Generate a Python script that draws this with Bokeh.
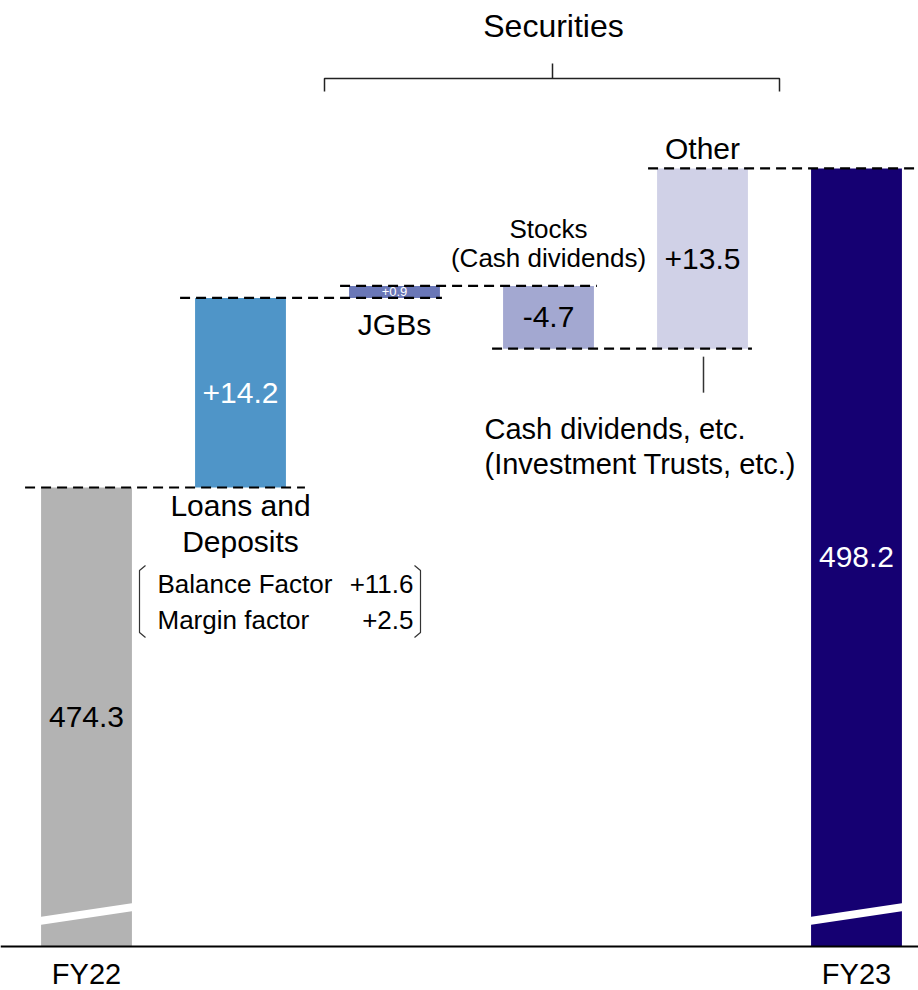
from bokeh.plotting import figure
from bokeh.models import Range1d, ColumnDataSource
from bokeh.embed import file_html
from bokeh.resources import INLINE
from bokeh.core.properties import value

# ---------------- data ----------------
categories = ["FY22", "Loans and Deposits", "JGBs", "Stocks", "Other", "FY23"]
start_value = 474.3
changes = [14.2, 0.9, -4.7, 13.5]
end_value = 498.2
bar_labels = ["474.3", "+14.2", "+0.9", "-4.7", "+13.5", "498.2"]
factor_names = ["Balance Factor", "Margin factor"]
factor_values = ["+11.6", "+2.5"]
bar_colors = ["#b3b3b3", "#4f95c8", "#6a77b7", "#a3a8d1", "#d0d1e7", "#150072"]
label_colors = ["#000000", "#ffffff", "#ffffff", "#000000", "#000000", "#ffffff"]

# ---------------- layout ----------------
W, H = 918, 990
PX = 13.35          # pixels per unit
STEP = 154.0        # pixels between bar centres
FIRST_X = 86.0      # px of first bar centre
START_Y = 487.0     # px of start value
BAR_W = 0.59
FONT = value("Liberation Sans")
BIG = "30px"
MID = "29px"
SMALL = "26px"


def RX(x):
    return (x - FIRST_X) / STEP


def RY(y):
    return start_value + (START_Y - y) / PX


def OFF(v, px):
    # shift a data value by px pixels downward
    return v - px / PX


p = figure(width=W, height=H, output_backend="svg", toolbar_location=None,
           x_range=Range1d(RX(0), RX(W)), y_range=Range1d(RY(H), RY(0)),
           x_axis_type=None, y_axis_type=None, min_border=0)
p.outline_line_color = None
p.grid.visible = False
p.background_fill_color = "white"

base = RY(946)

# waterfall geometry
levels = [start_value]
for c in changes:
    levels.append(levels[-1] + c)
bottoms = [base]
tops = [start_value]
for i, c in enumerate(changes):
    bottoms.append(min(levels[i], levels[i + 1]))
    tops.append(max(levels[i], levels[i + 1]))
bottoms.append(base)
tops.append(end_value)

xs = list(range(len(categories)))
mids = [(b + t) / 2 for b, t in zip(bottoms, tops)]
heights_px = [(t - b) * PX for b, t in zip(bottoms, tops)]
sizes = [BIG if h > 30 else "13px" for h in heights_px]
src = ColumnDataSource(dict(
    left=[x - BAR_W / 2 for x in xs], right=[x + BAR_W / 2 for x in xs],
    bottom=bottoms, top=tops, color=bar_colors,
    lx=xs, ly=mids, label=bar_labels, lcolor=label_colors, size=sizes))
p.quad(left="left", right="right", bottom="bottom", top="top",
       fill_color="color", line_color=None, source=src)

# axis break marks on the two totals
for i in (0, 5):
    l, r = i - BAR_W / 2 - 0.01, i + BAR_W / 2 + 0.01
    p.patch([l, r, r, l], [RY(916.5), RY(902.5), RY(910.5), RY(924.5)],
            fill_color="white", line_color=None)

# connectors
left_over = [16, 15, 9, 11, 9]
right_over = [19, 2, 3, 4, 20]
conn_levels = [levels[0], levels[1], levels[2], levels[3], end_value]
for k in range(5):
    x0 = k - BAR_W / 2 - left_over[k] / STEP
    x1 = k + 1 + BAR_W / 2 + right_over[k] / STEP
    p.line([x0, x1], [conn_levels[k]] * 2, line_color="black",
           line_width=2.2, line_dash="10 6")

# baseline
p.line([RX(0), RX(W)], [base, base], line_color="black", line_width=2)

# bar value labels
p.text(x="lx", y="ly", text="label", text_color="lcolor", source=src,
       text_font=FONT, text_font_size="size", text_align="center",
       text_baseline="middle")


def txt(x, y, s, size=BIG, align="center", color="black"):
    p.text(x=[x], y=[y], text=[s], text_font=FONT, text_font_size=size,
           text_align=align, text_baseline="middle", text_color=color)


# category labels
txt(0, RY(973), categories[0], size=MID)
txt(5, RY(973), categories[5], size=MID)
txt(1, OFF(levels[0], 18), "Loans and")
txt(1, OFF(levels[0], 54), "Deposits")
txt(2, OFF(levels[1], 27), categories[2])
txt(3, OFF(levels[2], -57), "Stocks", size=SMALL)
txt(3, OFF(levels[2], -28), "(Cash dividends)", size=SMALL)
txt(4, OFF(end_value, -20), categories[4])
txt(RX(484), OFF(levels[3], 80), "Cash dividends, etc.", size=MID, align="left")
txt(RX(484), OFF(levels[3], 115), "(Investment Trusts, etc.)", size=MID, align="left")
p.line([RX(703), RX(703)], [OFF(levels[3], 8), OFF(levels[3], 44)],
       line_color="#333333", line_width=1.5)

# loan factor breakdown
for j, (n, v) in enumerate(zip(factor_names, factor_values)):
    yy = RY(583 + 36 * j)
    txt(RX(157), yy, n, size=SMALL, align="left")
    txt(RX(413), yy, v, size=SMALL, align="right")
p.line([RX(145), RX(139), RX(139), RX(145)], [RY(565), RY(570), RY(632), RY(637)],
       line_color="#333333", line_width=1.2)
p.line([RX(414), RX(420), RX(420), RX(414)], [RY(565), RY(570), RY(632), RY(637)],
       line_color="#333333", line_width=1.2)

# securities bracket
txt(RX(553), RY(25), "Securities", size="32px")
p.line([RX(324), RX(324), RX(779), RX(779)], [RY(91), RY(78), RY(78), RY(91)],
       line_color="#222222", line_width=1.5)
p.line([RX(552), RX(552)], [RY(63), RY(78)], line_color="#222222", line_width=1.5)

open("out.html", "w").write(file_html(p, INLINE))
